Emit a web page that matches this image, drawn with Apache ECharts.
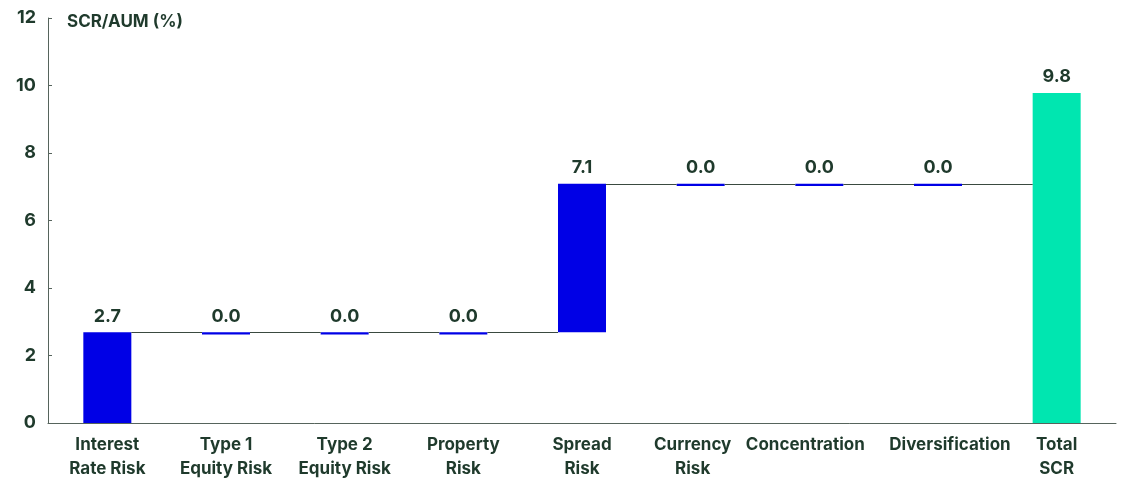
<!DOCTYPE html>
<html>
<head>
<meta charset="utf-8">
<script src="https://cdn.jsdelivr.net/npm/echarts@6/dist/echarts.min.js"></script>
<style>
html,body{margin:0;padding:0;background:#fff;}
#chart{width:1124px;height:481px;}
</style>
</head>
<body>
<div id="chart"></div>
<script>
// ---- data ----
const categories = ['Interest\nRate Risk', 'Type 1\nEquity Risk', 'Type 2\nEquity Risk', 'Property\nRisk', 'Spread\nRisk', 'Currency\nRisk', 'Concentration', 'Diversification', 'Total\nSCR'];
const valueLabels = ['2.7', '0.0', '0.0', '0.0', '7.1', '0.0', '0.0', '0.0', '9.8'];
const barLow  = [0,    2.62, 2.62, 2.62, 2.69, 7.02, 7.02, 7.02, 0];
const barHigh = [2.69, 2.69, 2.69, 2.69, 7.09, 7.09, 7.09, 7.09, 9.78];
const isTotal = [false, false, false, false, false, false, false, false, true];
const yTicks = { min: 0, max: 12, interval: 2 };

// ---- style ----
const TEXT = '#1f3a2c';
const AXIS = '#56645c';
const BLUE = '#0000e6';
const GREEN = '#00e6b0';
const FONT = 'Inter, sans-serif';
const WEIGHT = 'bold';
const BAR_W = 48;
// small horizontal nudges of long axis labels so they do not collide (px)
const labelNudge = { 'Currency\nRisk': -8, 'Concentration': -14, 'Diversification': 12 };

const visible = barHigh.map((h, i) => ({
  value: +(h - barLow[i]).toFixed(4),
  itemStyle: { color: isTotal[i] ? GREEN : BLUE }
}));
const connectors = barHigh.slice(0, -1).map((v, i) => [i, v]);

const baseFont = { fontFamily: FONT, fontWeight: WEIGHT, fontSize: 17, color: TEXT, lineHeight: 24 };
const rich = {};
Object.keys(labelNudge).forEach((k, idx) => {
  const n = labelNudge[k];
  rich['n' + idx] = Object.assign({ padding: n < 0 ? [0, -2 * n, 0, 0] : [0, 0, 0, 2 * n] }, baseFont);
});

const chart = echarts.init(document.getElementById('chart'), null, { renderer: 'canvas' });
chart.setOption({
  animation: false,
  backgroundColor: '#fff',
  title: {
    text: 'SCR/AUM (%)',
    left: 62, top: 8,
    textStyle: { fontFamily: FONT, fontWeight: WEIGHT, fontSize: 17, color: TEXT }
  },
  grid: { left: 48, right: 8, top: 18, bottom: 57, containLabel: false },
  xAxis: {
    type: 'category',
    data: categories,
    axisLine: { show: true, lineStyle: { color: AXIS, width: 1 } },
    axisTick: { show: false },
    axisLabel: Object.assign({
      interval: 0, margin: 10,
      formatter: function (v) {
        const keys = Object.keys(labelNudge);
        const idx = keys.indexOf(v);
        if (idx < 0) return v;
        return v.split('\n').map(s => '{n' + idx + '|' + s + '}').join('\n');
      },
      rich: rich
    }, baseFont)
  },
  yAxis: {
    type: 'value',
    min: yTicks.min, max: yTicks.max, interval: yTicks.interval,
    splitLine: { show: false },
    axisLine: { show: true, lineStyle: { color: AXIS, width: 1 } },
    axisTick: { show: true, inside: true, length: 4, lineStyle: { color: AXIS } },
    axisLabel: { margin: 12, fontFamily: FONT, fontWeight: WEIGHT, fontSize: 18, color: TEXT }
  },
  series: [
    {
      type: 'bar', stack: 'wf', barWidth: BAR_W,
      itemStyle: { color: 'rgba(0,0,0,0)' },
      emphasis: { disabled: true },
      data: barLow
    },
    {
      type: 'bar', stack: 'wf', barWidth: BAR_W,
      data: visible,
      label: {
        show: true, position: 'top', distance: 7,
        fontFamily: FONT, fontWeight: WEIGHT, fontSize: 18, color: TEXT,
        formatter: p => valueLabels[p.dataIndex]
      }
    },
    {
      type: 'custom', z: 5,
      data: connectors,
      renderItem: function (params, api) {
        const i = api.value(0);
        const lvl = api.value(1);
        const p0 = api.coord([i, lvl]);
        const p1 = api.coord([i + 1, lvl]);
        const y = Math.round(p0[1]) + 0.5;
        return {
          type: 'line',
          shape: { x1: p0[0] + BAR_W / 2, y1: y, x2: p1[0] - BAR_W / 2, y2: y },
          style: { stroke: '#3a4a40', lineWidth: 1 }
        };
      }
    }
  ]
});
</script>
</body>
</html>
